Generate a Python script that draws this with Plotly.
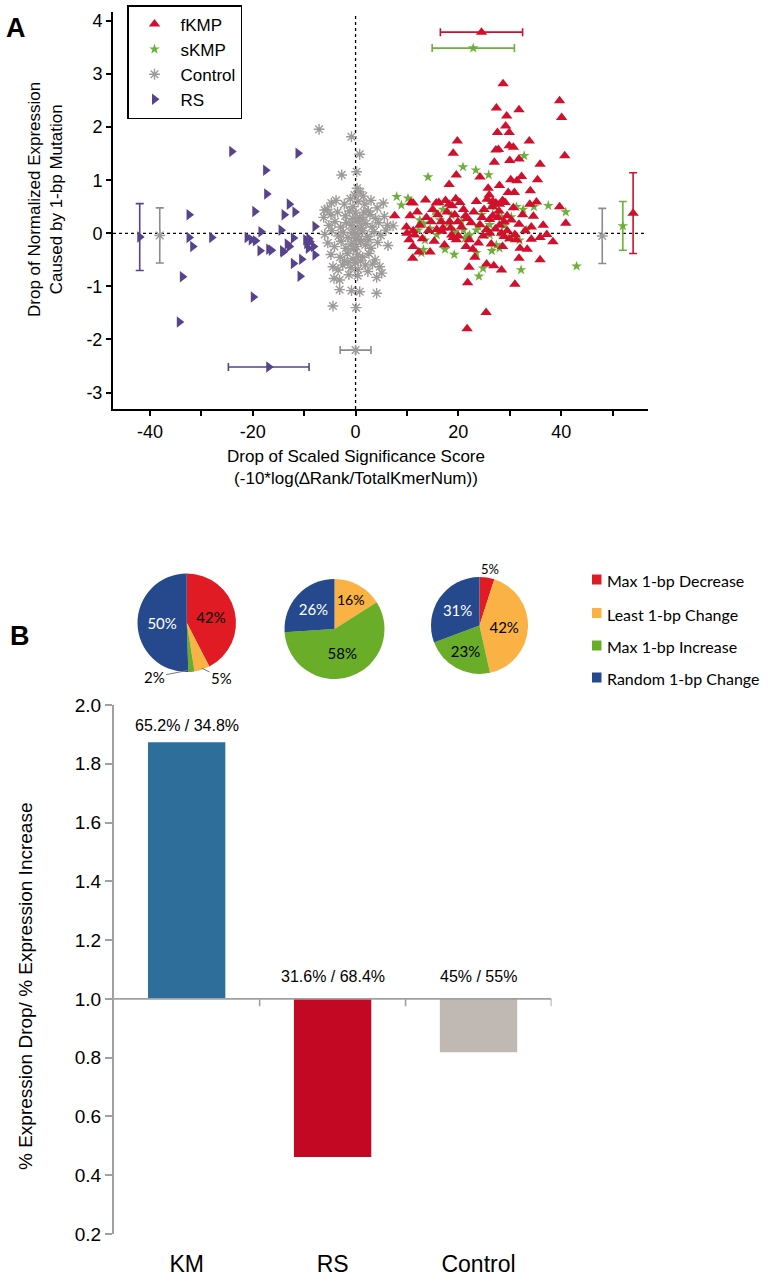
import plotly.graph_objects as go

W, H = 769, 1280

# ---------------- panel A data (x = drop of scaled significance, y = drop of expression)
fkmp_pts = [
    (28.7, 2.82), (39.7, 2.50), (40.1, 2.18), (27.4, 2.36), (29.4, 2.21), (31.8, 2.33), (29.2, 2.02),
    (27.6, 1.90), (29.9, 1.90), (19.8, 1.74), (33.8, 1.74), (19.0, 1.51), (27.3, 1.57), (27.8, 1.58),
    (29.9, 1.65), (30.7, 1.62), (40.7, 1.46), (27.0, 1.34), (30.0, 1.37), (31.8, 1.40), (35.9, 1.30),
    (19.6, 1.10), (24.2, 1.06), (18.2, 0.92), (30.2, 1.01), (31.4, 0.99), (32.3, 1.07), (35.4, 1.01),
    (29.7, 0.77), (30.9, 0.77), (34.0, 0.80), (10.8, 0.58), (7.6, 0.33), (13.6, 0.63), (15.7, 0.57),
    (16.2, 0.58), (18.2, 0.55), (18.8, 0.52), (20.3, 0.58), (23.5, 0.60), (25.6, 0.64), (26.7, 0.60),
    (27.3, 0.57), (28.0, 0.55), (26.6, 0.50), (28.6, 0.62), (29.1, 0.58), (35.2, 0.59), (33.9, 0.55),
    (39.7, 0.50), (40.9, 0.19), (10.6, 0.33), (14.7, 0.22), (16.7, 0.22), (18.3, 0.22), (19.9, 0.22),
    (21.4, 0.33), (21.7, 0.28), (24.2, 0.16), (26.1, 0.26), (26.7, 0.33), (27.7, 0.30), (28.9, 0.22),
    (29.5, 0.33), (28.0, 0.15), (31.8, 0.17), (34.2, 0.12), (10.0, 0.00), (11.2, 0.05), (11.5, -0.03),
    (15.8, 0.07), (16.8, 0.04), (18.7, -0.03), (19.0, -0.08), (19.6, -0.12), (22.1, -0.12), (23.9, -0.18),
    (25.5, 0.07), (26.1, 0.00), (28.4, 0.00), (28.9, -0.06), (30.0, -0.10), (31.3, -0.12), (34.2, -0.11),
    (35.9, -0.08), (38.4, -0.16), (11.2, -0.25), (14.5, -0.35), (32.0, -0.28), (11.1, -0.47), (35.9, -0.50),
    (22.1, -0.64), (25.5, -0.58), (26.9, -0.61), (28.4, -0.69), (31.8, -0.47), (21.8, -0.93), (31.0, -0.96),
    (25.4, -1.49), (21.7, -1.80), (11.2, 0.57), (9.9, 0.12), (10.4, -0.12), (12.0, 0.40), (12.5, 0.15),
    (13.0, -0.10), (13.8, 0.30), (14.2, 0.05), (15.0, 0.45), (15.3, -0.15), (16.0, 0.35), (17.0, 0.10),
    (17.3, -0.22), (17.8, 0.40), (18.5, 0.10), (19.3, 0.35), (20.0, -0.05), (20.6, 0.12), (21.0, 0.45),
    (22.5, 0.20), (22.8, -0.30), (23.0, 0.40), (24.6, 0.30), (24.8, -0.05), (25.0, 0.45), (26.4, -0.20),
    (27.2, 0.08), (27.9, 0.42), (28.6, -0.25), (29.5, 0.05), (30.3, 0.25), (30.7, 0.48), (31.0, -0.02),
    (32.5, 0.35), (33.0, 0.05), (33.4, -0.30), (34.6, 0.32), (36.5, 0.15), (37.2, -0.02), (26.0, 0.72),
    (25.8, 0.85), (28.0, 0.90), (12.3, -0.35), (21.5, -0.25), (23.2, -0.45), (19.5, 0.65), (17.5, 0.62),
]

skmp_pts = [
    (32.8, 1.46), (20.9, 1.25), (23.4, 1.19), (25.9, 1.10), (14.1, 1.06), (8.0, 0.69), (8.9, 0.53),
    (10.2, 0.66), (37.5, 0.52), (40.9, 0.40), (43.0, -0.62), (32.2, -0.69), (24.8, -0.66), (24.0, -0.81),
    (23.5, -0.37), (19.2, -0.40), (12.8, -0.37), (17.4, -0.30), (26.5, -0.33), (28.0, -0.28),
    (12.5, 0.25), (13.2, 0.19), (12.2, 0.06), (13.5, -0.13), (15.4, 0.41), (16.4, 0.25), (18.0, 0.19),
    (18.7, 0.34), (20.6, 0.22), (21.0, 0.06), (21.3, -0.09), (21.9, -0.06), (22.2, -0.03), (23.9, 0.13),
    (26.1, 0.16), (26.4, 0.57), (27.1, 0.50), (27.7, 0.38), (28.4, 0.31), (30.3, 0.31), (31.3, 0.50),
    (32.6, 0.45), (33.3, 0.06), (34.7, 0.50), (31.9, -0.13), (30.7, -0.09), (29.7, -0.09), (28.4, 0.00),
    (27.4, -0.22), (26.1, -0.03), (23.5, 0.06), (19.3, 0.03), (15.8, -0.03), (13.2, -0.31), (14.5, 0.09),
    (17.0, 0.45), (24.5, 0.35), (29.0, 0.15),
]

control_pts = [
    (-7.1, 1.96), (-0.8, 1.82), (0.8, 1.49), (-2.7, 1.10), (0.2, 1.16),
    (-4.4, -1.37), (0.1, -1.40), (4.1, -1.13), (-3.1, -1.06), (-0.8, -1.08), (0.8, -1.10),
    (-4.2, -0.85), (-1.3, -0.78), (0.4, -0.80), (2.4, -0.72), (4.1, -0.83), (-3.4, -0.69),
    (-4.4, -0.63), (4.7, -0.63), (5.1, -0.75), (-3.1, -0.88),
    (7.3, 0.14), (6.3, -0.23), (5.4, 0.57), (-4.7, 0.57), (-6.0, 0.44), (0.3, 0.85), (0.9, 0.78),
    (-0.2, 0.72), (1.5, 0.70),
    (-5.5, 0.45), (-3.8, 0.62), (-2.2, 0.55), (-1.0, 0.65), (0.5, 0.60), (1.8, 0.55), (3.0, 0.62),
    (4.2, 0.48), (-0.5, 0.50), (2.5, 0.42),
    (-6.2, 0.30), (-4.8, 0.35), (-3.5, 0.40), (-2.0, 0.33), (-1.2, 0.42), (0.0, 0.38), (0.8, 0.30),
    (1.6, 0.40), (2.8, 0.35), (3.9, 0.28), (5.6, 0.32), (-0.6, 0.28),
    (-5.2, 0.15), (-4.0, 0.22), (-2.9, 0.12), (-1.8, 0.20), (-0.9, 0.15), (0.3, 0.22), (1.1, 0.10),
    (2.0, 0.18), (3.2, 0.12), (4.5, 0.20), (6.2, 0.15), (-0.3, 0.08), (1.4, 0.25),
    (-6.0, -0.02), (-4.6, 0.05), (-3.3, -0.05), (-2.4, 0.02), (-1.5, -0.08), (-0.7, 0.00), (0.5, -0.03),
    (1.3, 0.05), (2.3, -0.06), (3.6, 0.03), (4.9, -0.04), (5.9, 0.06), (-0.1, -0.10), (0.9, 0.08),
    (-5.4, -0.18), (-4.1, -0.25), (-2.8, -0.15), (-1.9, -0.28), (-0.8, -0.20), (0.2, -0.25), (1.0, -0.15),
    (1.9, -0.22), (3.0, -0.28), (4.3, -0.17), (-0.4, -0.30), (0.6, -0.12), (2.6, -0.12),
    (-4.8, -0.40), (-3.0, -0.45), (-1.6, -0.38), (-0.5, -0.48), (0.4, -0.40), (1.4, -0.45), (2.6, -0.38),
    (3.8, -0.50), (-2.2, -0.52), (0.0, -0.55), (1.0, -0.52),
    (-2.5, -0.60), (-0.9, -0.65), (0.5, -0.68), (1.9, -0.60), (3.3, -0.58), (-1.5, -0.55),
]

rs_pts = [
    (-24.1, 1.54), (-11.2, 1.51), (-17.5, 1.19), (-17.3, 0.74), (-32.4, 0.35), (-19.6, 0.41), (-12.9, 0.55),
    (-13.9, 0.35), (-11.8, 0.40), (-7.9, 0.13), (-32.4, -0.08), (-28.0, -0.08), (-21.1, -0.08), (-20.3, -0.12),
    (-19.5, -0.14), (-18.4, 0.03), (-14.5, 0.06), (-12.1, -0.09), (-9.7, -0.12), (-9.1, -0.10), (-31.7, -0.25),
    (-18.6, -0.33), (-16.9, -0.30), (-16.4, -0.32), (-14.2, -0.33), (-13.3, -0.20), (-12.9, -0.25), (-12.1, -0.57),
    (-10.5, -0.49), (-9.5, -0.19), (-8.9, -0.16), (-9.2, -0.28), (-8.2, -0.25), (-7.9, -0.41), (-10.8, -0.81),
    (-33.7, -0.82), (-19.9, -1.20), (-34.3, -1.67), (-14.1, -0.35),
]

# group means with spread: horizontal (x mean, y pos, x err) and vertical (x pos, y mean, y err)
mean_h = {"fKMP": (24.5, 3.79, 8.0), "sKMP": (22.9, 3.49, 8.0), "RS": (-16.9, -2.52, 7.85), "Control": (0.0, -2.2, 3.0)}
mean_v = {"RS": (-42.0, -0.07, 0.63), "Control": (-38.1, -0.04, 0.52), "Control2": (48.0, -0.05, 0.52),
          "sKMP": (52.0, 0.14, 0.46), "fKMP": (54.0, 0.38, 0.76)}
y_ticks = [-3, -2, -1, 0, 1, 2, 3, 4]

# ---------------- panel B data
pie_labels = ["Max 1-bp Decrease", "Least 1-bp Change", "Max 1-bp Increase", "Random 1-bp Change"]
pie_km = [42, 5, 2, 50]
pie_rs = [0, 16, 58, 26]
pie_ctrl = [5, 42, 23, 31]

groups = ["KM", "RS", "Control"]
drop_pct = [65.2, 31.6, 45]
incr_pct = [34.8, 68.4, 55]

ratio = [d / i for d, i in zip(drop_pct, incr_pct)]

RED, GREEN, GRAY, PURPLE = "rgb(208,16,44)", "rgb(108,176,58)", "rgb(158,154,154)", "rgb(87,67,140)"
PIE_COLORS = ["rgb(225,27,36)", "rgb(250,178,68)", "rgb(106,173,40)", "rgb(37,73,140)"]
ARIAL = "Arial, Liberation Sans, sans-serif"
CALIBRI = "Lato, Noto Sans, sans-serif"


def px(x):
    return x / W


def py(y):
    return 1 - y / H


fig = go.Figure()

styles = {
    "fKMP": dict(symbol="triangle-up", color=RED, size=10),
    "sKMP": dict(symbol="star", color=GREEN, size=8),
    "Control": dict(symbol="asterisk-open", color=GRAY, size=9, line=dict(color=GRAY, width=1.4)),
    "RS": dict(symbol="triangle-right", color=PURPLE, size=10),
}
series = [("Control", control_pts, 3), ("RS", rs_pts, 4), ("sKMP", skmp_pts, 2), ("fKMP", fkmp_pts, 1)]
for name, pts, rank in series:
    fig.add_trace(go.Scatter(
        x=[p[0] for p in pts], y=[p[1] for p in pts], mode="markers", name=name,
        marker=styles[name], legendrank=rank, xaxis="x", yaxis="y"))

err_col = {"fKMP": RED, "sKMP": GREEN, "Control": "rgb(140,140,140)", "RS": PURPLE}
for name, (mx, my, ex) in mean_h.items():
    fig.add_trace(go.Scatter(
        x=[mx], y=[my], mode="markers", showlegend=False, marker=styles[name],
        error_x=dict(type="data", array=[ex], color=err_col[name], thickness=1.6, width=4),
        xaxis="x", yaxis="y"))
for key, (mx, my, ey) in mean_v.items():
    name = key.rstrip("2")
    fig.add_trace(go.Scatter(
        x=[mx], y=[my], mode="markers", showlegend=False, marker=styles[name],
        error_y=dict(type="data", array=[ey], color=err_col[name], thickness=1.6, width=4),
        xaxis="x", yaxis="y"))

# pies
pie_sets = [(pie_km, 137.5, 236.0, 573.5, 672.0), (pie_rs, 284.5, 384.5, 579.0, 679.0),
            (pie_ctrl, 431.0, 528.0, 577.0, 674.0)]
for vals, x0, x1, y0, y1 in pie_sets:
    txt = [f"{v}%" if v >= 10 else "" for v in vals]
    fig.add_trace(go.Pie(
        values=vals, labels=pie_labels, sort=False, direction="clockwise", rotation=0,
        marker=dict(colors=PIE_COLORS, line=dict(width=0)), text=txt, textinfo="text",
        textposition="inside", insidetextorientation="horizontal",
        textfont=dict(family=CALIBRI, size=15, color=["black", "black", "black", "white"]),
        domain=dict(x=[px(x0), px(x1)], y=[py(y1), py(y0)]), showlegend=False, hoverinfo="label+value"))

# bars
fig.add_trace(go.Bar(
    x=groups, y=[r - 1 for r in ratio], base=1, width=0.53,
    marker=dict(color=["rgb(46,110,155)", "rgb(195,8,35)", "rgb(191,184,179)"], line=dict(width=0)),
    showlegend=False, xaxis="x2", yaxis="y2"))

annotations = [
    dict(text="<b>A</b>", x=px(4), y=py(28), xanchor="left", font=dict(size=27)),
    dict(text="<b>B</b>", x=px(8), y=py(636), xanchor="left", font=dict(size=27)),
    dict(text="Drop of Normalized Expression<br>Caused by 1-bp Mutation", x=px(45), y=py(200),
         textangle=-90, font=dict(size=17)),
    dict(text="Drop of Scaled Significance Score<br>(-10*log(\u2206Rank/TotalKmerNum))", x=px(356), y=py(467),
         font=dict(size=17)),
    dict(text="% Expression Drop/ % Expression Increase", x=px(25), y=py(986), textangle=-90,
         font=dict(size=19)),
    dict(text="2%", x=px(190), y=py(670), ax=-36, ay=7, showarrow=True, arrowhead=0, arrowwidth=1,
         arrowcolor="rgb(120,120,120)", font=dict(family=CALIBRI, size=15)),
    dict(text="5%", x=px(201.5), y=py(668), ax=20, ay=10, showarrow=True, arrowhead=0, arrowwidth=1,
         arrowcolor="rgb(120,120,120)", font=dict(family=CALIBRI, size=15)),
    dict(text="5%", x=px(490), y=py(569), font=dict(family=CALIBRI, size=13)),
]
for a in annotations:
    a.setdefault("xref", "paper")
    a.setdefault("yref", "paper")
    a.setdefault("showarrow", False)
    a.setdefault("xanchor", "center")
    a.setdefault("yanchor", "middle")

for g, d, i, r, sh in zip(groups, drop_pct, incr_pct, ratio, [6, 12, 12]):
    annotations.append(dict(text=f"{d:g}% / {i:g}%", x=g, y=max(r, 1), xref="x2", yref="y2",
                            yanchor="bottom", yshift=sh, showarrow=False, font=dict(size=16)))

# pie legend
shapes = []
for k, (lab, col) in enumerate(zip(pie_labels, PIE_COLORS)):
    yc = [579.5, 613.0, 645.5, 677.5][k]
    shapes.append(dict(type="rect", xref="paper", yref="paper", x0=px(592), x1=px(601.5),
                       y0=py(yc + 5), y1=py(yc - 5), fillcolor=col, line=dict(width=0)))
    annotations.append(dict(text=lab, x=px(605), y=py(yc + 1), xref="paper", yref="paper", xanchor="left",
                            yanchor="middle", showarrow=False, font=dict(family=CALIBRI, size=16)))

# dotted reference lines panel A
shapes += [
    dict(type="line", xref="x", yref="y", x0=0, x1=0, y0=-3.31, y1=4.1,
         line=dict(color="black", width=1.3, dash="dot"), layer="below"),
    dict(type="line", xref="x", yref="y", x0=-47.2, x1=56.3, y0=0, y1=0,
         line=dict(color="black", width=1.3, dash="dot"), layer="below"),
]
# baseline at 1.0 with category ticks panel B
shapes.append(dict(type="line", xref="x2", yref="y2", x0=-0.5, x1=2.5, y0=1, y1=1,
                   line=dict(color="rgb(160,160,160)", width=1.6)))
for xt in [0.5, 1.5, 2.5]:
    shapes.append(dict(type="line", xref="x2", yref="y2", x0=xt, x1=xt, y0=1, y1=0.975,
                       line=dict(color="rgb(160,160,160)", width=1.6)))

fig.update_layout(
    width=W, height=H, margin=dict(l=0, r=0, t=0, b=0, autoexpand=False),
    paper_bgcolor="white", plot_bgcolor="white",
    font=dict(family=ARIAL, color="black"),
    xaxis=dict(domain=[px(113), px(648)], range=[-47.2, 56.9], anchor="y",
               tickvals=[-40, -30, -20, -10, 0, 10, 20, 30, 40, 50],
               ticktext=["-40", "", "-20", "", "0", "", "20", "", "40", ""],
               ticks="outside", ticklen=5, tickwidth=2, tickcolor="black",
               showline=True, linewidth=2, linecolor="black", showgrid=False, zeroline=False,
               tickfont=dict(size=18)),
    yaxis=dict(domain=[py(409), py(12)], range=[-3.31, 4.17], anchor="x",
               tickvals=y_ticks, ticktext=[str(v) for v in y_ticks],
               ticks="outside", ticklen=5, tickwidth=2, tickcolor="black",
               showline=True, linewidth=2, linecolor="black", showgrid=False, zeroline=False,
               tickfont=dict(size=18)),
    xaxis2=dict(domain=[px(113.7), px(551.5)], range=[-0.5, 2.5], anchor="y2", type="category",
                showline=False, ticks="", showgrid=False, zeroline=False, tickfont=dict(size=23),
                ticklabelstandoff=14),
    yaxis2=dict(domain=[py(1234), py(705)], range=[0.2, 2.0], anchor="x2",
                tickvals=[0.2, 0.4, 0.6, 0.8, 1.0, 1.2, 1.4, 1.6, 1.8, 2.0], tickformat=".1f",
                ticks="outside", ticklen=7, tickwidth=1.6, tickcolor="rgb(160,160,160)",
                showline=True, linewidth=1.6, linecolor="rgb(160,160,160)", showgrid=False,
                zeroline=False, tickfont=dict(size=19)),
    legend=dict(x=px(127), y=py(5), xanchor="left", yanchor="top", bordercolor="black", borderwidth=1.5,
                bgcolor="white", font=dict(size=17), tracegroupgap=0, itemsizing="trace", itemwidth=42),
    annotations=annotations, shapes=shapes,
)

# the page body has a default 8px margin; drop it so the figure sits at the window origin
fig.write_html("out.html", config={"displayModeBar": False},
               post_script="document.body.style.margin='0';")
